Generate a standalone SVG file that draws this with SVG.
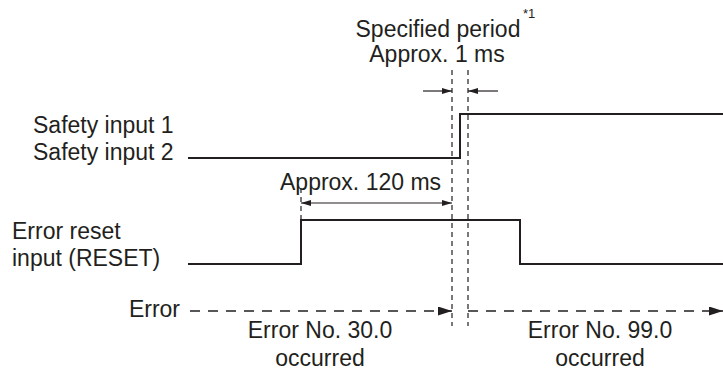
<svg xmlns="http://www.w3.org/2000/svg" width="723" height="378" viewBox="0 0 723 378">
  <style>
    text { font-family: "Liberation Sans", Arial, sans-serif; font-size: 23px; fill: #231f20; }
    .sup { font-size: 13px; }
    .sig { fill: none; stroke: #231f20; stroke-width: 2; }
    .guide { fill: none; stroke: #231f20; stroke-width: 1.2; stroke-dasharray: 5 4; }
    .dim { fill: none; stroke: #231f20; stroke-width: 1.2; }
    .err { fill: none; stroke: #231f20; stroke-width: 1.6; stroke-dasharray: 10 8; }
  </style>
  <defs>
    <marker id="ah" viewBox="0 0 10 6" refX="10" refY="3" markerWidth="10" markerHeight="6" markerUnits="userSpaceOnUse" orient="auto">
      <path d="M0,0 L10,3 L0,6 Z" fill="#231f20"/>
    </marker>
    <marker id="ahs" viewBox="0 0 10 6" refX="10" refY="3" markerWidth="10" markerHeight="6" markerUnits="userSpaceOnUse" orient="auto-start-reverse">
      <path d="M0,0 L10,3 L0,6 Z" fill="#231f20"/>
    </marker>
    <marker id="ahe" viewBox="0 0 14 9" refX="14" refY="4.5" markerWidth="14" markerHeight="9" markerUnits="userSpaceOnUse" orient="auto">
      <path d="M0,0 L14,4.5 L0,9 Z" fill="#231f20"/>
    </marker>
  </defs>

  <g id="labels">
    <text x="438" y="37" text-anchor="middle">Specified period</text>
    <text x="523" y="18" class="sup">*1</text>
    <text x="437" y="62" text-anchor="middle">Approx. 1 ms</text>
    <text x="33" y="133">Safety input 1</text>
    <text x="33" y="160">Safety input 2</text>
    <text x="280" y="190">Approx. 120 ms</text>
    <text x="12" y="239">Error reset</text>
    <text x="12" y="266">input (RESET)</text>
    <text x="180" y="317" text-anchor="end">Error</text>
    <text x="320" y="338" text-anchor="middle">Error No. 30.0</text>
    <text x="320" y="366" text-anchor="middle">occurred</text>
    <text x="600" y="338" text-anchor="middle">Error No. 99.0</text>
    <text x="600" y="366" text-anchor="middle">occurred</text>
  </g>

  <g id="safety-signal">
    <polyline class="sig" points="188,158 460,158 460,114 723,114"/>
  </g>
  <g id="reset-signal">
    <polyline class="sig" points="188,264 301,264 301,220 520,220 520,264 723,264"/>
  </g>

  <g id="connectors">
    <line class="guide" x1="452" y1="70" x2="452" y2="326"/>
    <line class="guide" x1="468" y1="70" x2="468" y2="326"/>
    <line class="guide" x1="301" y1="188" x2="301" y2="220"/>
    <line class="dim" x1="423" y1="91" x2="452" y2="91" marker-end="url(#ah)"/>
    <line class="dim" x1="498" y1="91" x2="468" y2="91" marker-end="url(#ah)"/>
    <line class="dim" x1="301" y1="203" x2="452" y2="203" marker-start="url(#ahs)" marker-end="url(#ah)"/>
    <line class="err" x1="190" y1="311" x2="452" y2="311" marker-end="url(#ahe)"/>
    <line class="err" x1="468" y1="311" x2="723" y2="311" marker-end="url(#ahe)"/>
  </g>
</svg>
